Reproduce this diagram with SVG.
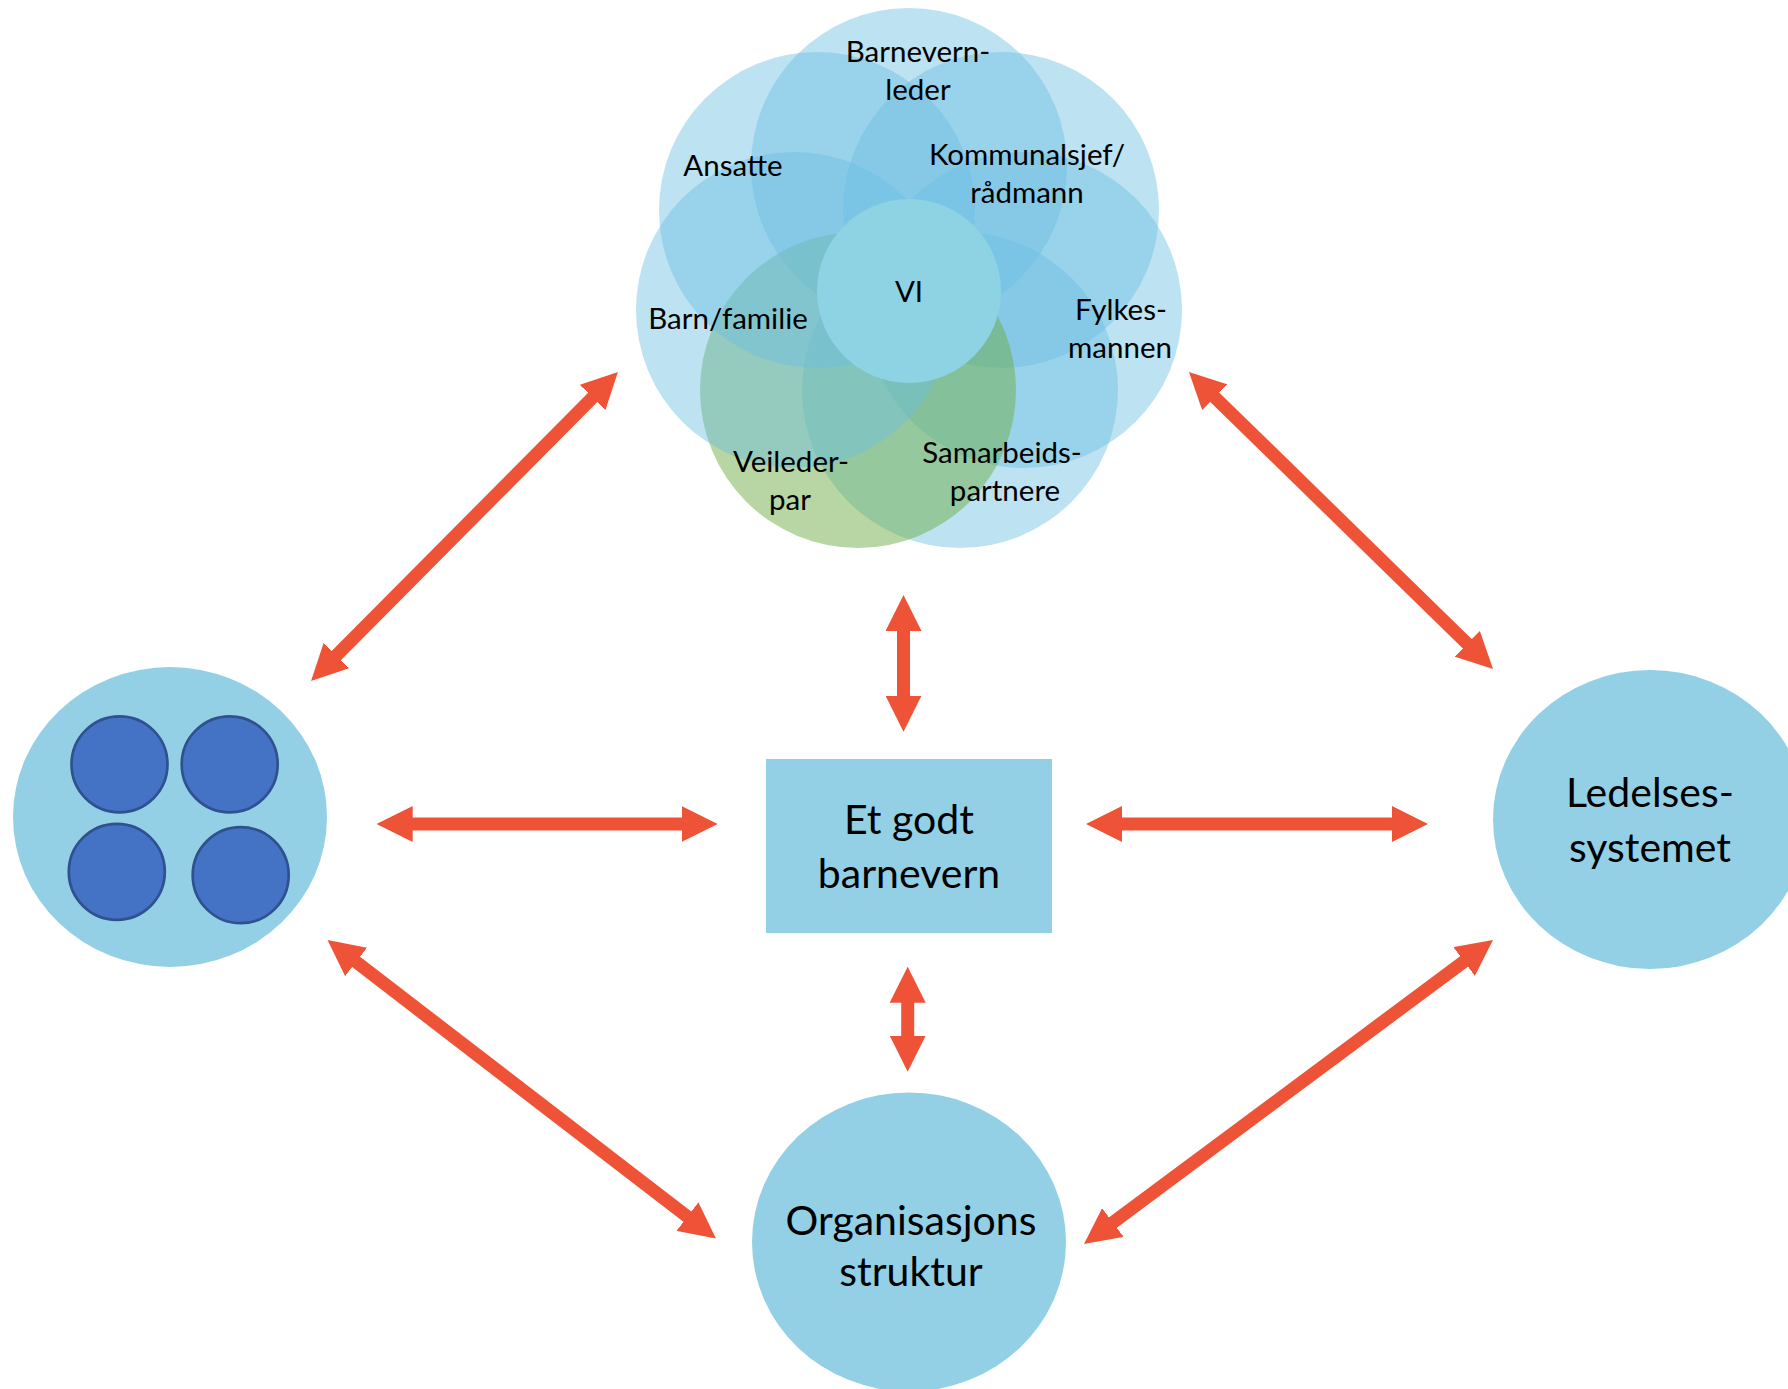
<svg xmlns="http://www.w3.org/2000/svg" width="1788" height="1389" viewBox="0 0 1788 1389">
  <style>
    text { font-family: Lato, "Open Sans", "Liberation Sans", sans-serif; fill: #000; text-anchor: middle; }
    .petal { fill: #6CBFE3; fill-opacity: 0.45; }
    .petal-green { fill: #70AD47; fill-opacity: 0.5; }
    .core { fill: #8DD3E4; }
    .small { font-size: 29.5px; }
    .big { font-size: 41px; }
    .node { fill: #93D0E5; }
    .member { fill: #4472C4; stroke: #2F528F; stroke-width: 2.7; }
    .link { stroke: #EE5337; stroke-width: 13; fill: none; marker-start: url(#head); marker-end: url(#head); }
  </style>
  <defs>
    <marker id="head" markerUnits="userSpaceOnUse" markerWidth="36" markerHeight="36" refX="2" refY="18" orient="auto-start-reverse" viewBox="0 0 36 36">
      <path d="M0,0 L36,18 L0,36 Z" fill="#EE5337"/>
    </marker>
  </defs>

  <rect width="1788" height="1389" fill="#fff"/>

  <!-- stakeholder cluster: seven overlapping circles around VI -->
  <g id="cluster">
    <circle class="petal" cx="909" cy="166" r="158"/>
    <circle class="petal" cx="1001" cy="210" r="158"/>
    <circle class="petal" cx="1024" cy="310" r="158"/>
    <circle class="petal" cx="960" cy="390" r="158"/>
    <circle class="petal-green" cx="858" cy="390" r="158"/>
    <circle class="petal" cx="794" cy="310" r="158"/>
    <circle class="petal" cx="817" cy="210" r="158"/>
    <circle class="core" cx="909" cy="291" r="92"/>
    <text class="small" x="918" y="62">Barnevern-</text>
    <text class="small" x="918" y="100">leder</text>
    <text class="small" x="733" y="176">Ansatte</text>
    <text class="small" x="1027" y="165">Kommunalsjef/</text>
    <text class="small" x="1027" y="203">rådmann</text>
    <text class="small" x="728" y="329">Barn/familie</text>
    <text class="small" x="909" y="302">VI</text>
    <text class="small" x="1121" y="320">Fylkes-</text>
    <text class="small" x="1120" y="358">mannen</text>
    <text class="small" x="791" y="472">Veileder-</text>
    <text class="small" x="790" y="510">par</text>
    <text class="small" x="1002" y="463">Samarbeids-</text>
    <text class="small" x="1005" y="501">partnere</text>
  </g>

  <!-- group of people -->
  <g id="team">
    <ellipse class="node" cx="170" cy="817" rx="157" ry="150"/>
    <circle class="member" cx="119.5" cy="764.3" r="48"/>
    <circle class="member" cx="229.7" cy="764.3" r="48"/>
    <circle class="member" cx="116.8" cy="871.8" r="48"/>
    <circle class="member" cx="240.7" cy="875.2" r="48"/>
  </g>

  <g id="goal">
    <rect class="node" x="766" y="759" width="286" height="174"/>
    <text class="big" x="909" y="834">Et godt</text>
    <text class="big" x="909" y="888">barnevern</text>
  </g>

  <g id="leadership">
    <ellipse class="node" cx="1650" cy="819.5" rx="157" ry="149.5"/>
    <text class="big" x="1650" y="807">Ledelses-</text>
    <text class="big" x="1650" y="862">systemet</text>
  </g>

  <g id="organisation">
    <ellipse class="node" cx="909" cy="1242" rx="157" ry="149.5"/>
    <text class="big" x="911" y="1235">Organisasjons</text>
    <text class="big" x="911" y="1286">struktur</text>
  </g>

  <!-- two-way links, line ends set 34px short of each arrow tip -->
  <g id="connectors">
    <line class="link" x1="335" y1="656.9" x2="594" y2="396.1"/>
    <line class="link" x1="1213.3" y1="395.8" x2="1468.7" y2="645.2"/>
    <line class="link" x1="354.5" y1="960.7" x2="689" y2="1217.8"/>
    <line class="link" x1="1465.7" y1="960.3" x2="1111.3" y2="1223.7"/>
    <line class="link" x1="410.7" y1="824" x2="683.7" y2="824"/>
    <line class="link" x1="1120" y1="824" x2="1394" y2="824"/>
    <line class="link" x1="903.5" y1="629" x2="903.5" y2="697.7"/>
    <line class="link" x1="907.7" y1="1000.7" x2="907.7" y2="1037.7"/>
  </g>
</svg>
